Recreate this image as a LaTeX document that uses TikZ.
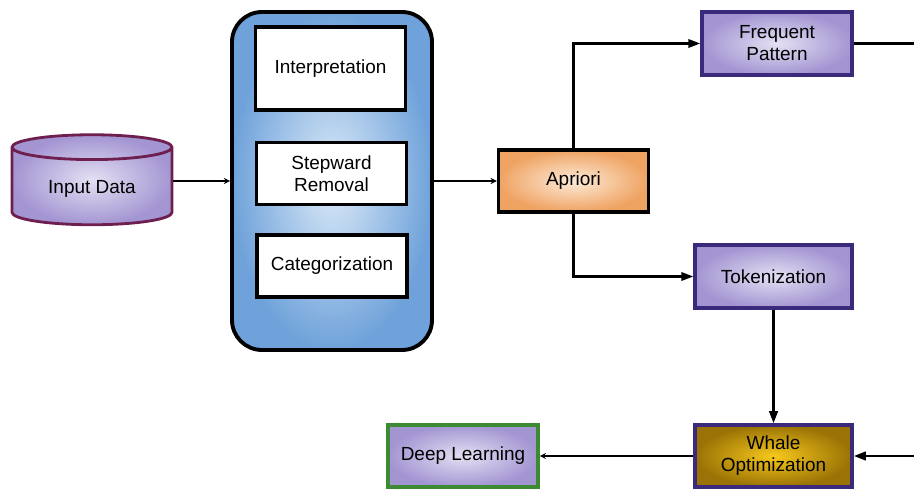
\documentclass[tikz,border=0pt]{standalone}
\usepackage{fontspec}
\setmainfont{Liberation Sans}
\usepackage{tikz}
\usetikzlibrary{shapes.geometric, arrows, arrows.meta, positioning, calc}
\usepackage{xcolor}
\definecolor{lilacout}{HTML}{A395D2}
\definecolor{lilacin}{HTML}{E4E0F3}
\definecolor{plumline}{HTML}{6E1F4F}
\definecolor{indigoline}{HTML}{3B2A7C}
\definecolor{skyout}{HTML}{6FA2DA}
\definecolor{skyin}{HTML}{DCEAF8}
\definecolor{peachout}{HTML}{EFA363}
\definecolor{peachin}{HTML}{FDEBD8}
\definecolor{goldout}{HTML}{9A7205}
\definecolor{goldin}{HTML}{F7C81C}
\definecolor{leafline}{HTML}{3C8A32}
\tikzstyle{store} = [cylinder, shape border rotate=90, aspect=0.25, minimum width=3.2cm, minimum height=1.8cm, draw=plumline, line width=1.6pt, shading=radial, inner color=lilacin, outer color=lilacout, text centered]
\tikzstyle{group} = [rectangle, rounded corners=0.6cm, minimum width=4cm, minimum height=6.76cm, draw=black, line width=2.2pt, shading=radial, inner color=skyin, outer color=skyout]
\tikzstyle{stage} = [rectangle, minimum width=3cm, minimum height=1.24cm, align=center, draw=black, line width=1.8pt, fill=white]
\tikzstyle{process} = [rectangle, minimum width=3cm, minimum height=1.24cm, align=center, draw=black, line width=2pt, shading=radial, inner color=peachin, outer color=peachout]
\tikzstyle{tool} = [rectangle, minimum width=3cm, minimum height=1.26cm, align=center, draw=indigoline, line width=2pt, shading=radial, inner color=lilacin, outer color=lilacout]
\tikzstyle{arrow} = [line width=1.2pt,-{Triangle[length=2.4mm,width=1.7mm]}]
\tikzstyle{thin arrow} = [semithick,->,>=stealth]

\begin{document}
\begin{tikzpicture}[font=\fontsize{10.8}{12.5}\selectfont]
        \useasboundingbox (0,0) rectangle (18.28,9.78);
        \node (input) [store] at (1.84,6.0) {Input Data};
        \node (prep) [group] at (6.64,6.16) {};
        \node (interp) [stage, minimum height=1.66cm] at (6.61,8.41) {Interpretation};
        \node (stepw) [stage] at (6.63,6.31) {Stepward\\Removal};
        \node (categ) [stage] at (6.64,4.46) {Categorization};
        \node (apriori) [process] at (11.47,6.16) {Apriori};
        \node (freq) [tool] at (15.54,8.91) {Frequent\\Pattern};
        \node (token) [tool, minimum width=3.14cm] at (15.47,4.25) {Tokenization};
        \node (whale) [tool, minimum width=3.14cm, minimum height=1.24cm, inner color=goldin, outer color=goldout] at (15.47,0.66) {Whale\\Optimization};
        \node (deep) [tool, minimum height=1.24cm, draw=leafline] at (9.26,0.66) {Deep Learning};
        \coordinate (freqout) at (18.28,8.91);
        \coordinate (whalein) at (18.28,0.66);
        
        \draw [thin arrow] (input.east |- prep) -- (prep.west);
        \draw [thin arrow] (prep) -- (apriori);
        \draw [arrow] (apriori.north) |- (freq.west);
        \draw [arrow] (apriori.south) |- (token.west);
        \draw [line width=1.2pt] (freq.east) -- (freqout);
        \draw [arrow, line width=1.4pt] (token) -- (whale);
        \draw [arrow, line width=1.4pt] (whalein) -- (whale.east);
        \draw [thin arrow] (whale) -- (deep);
    \end{tikzpicture}
\end{document}
